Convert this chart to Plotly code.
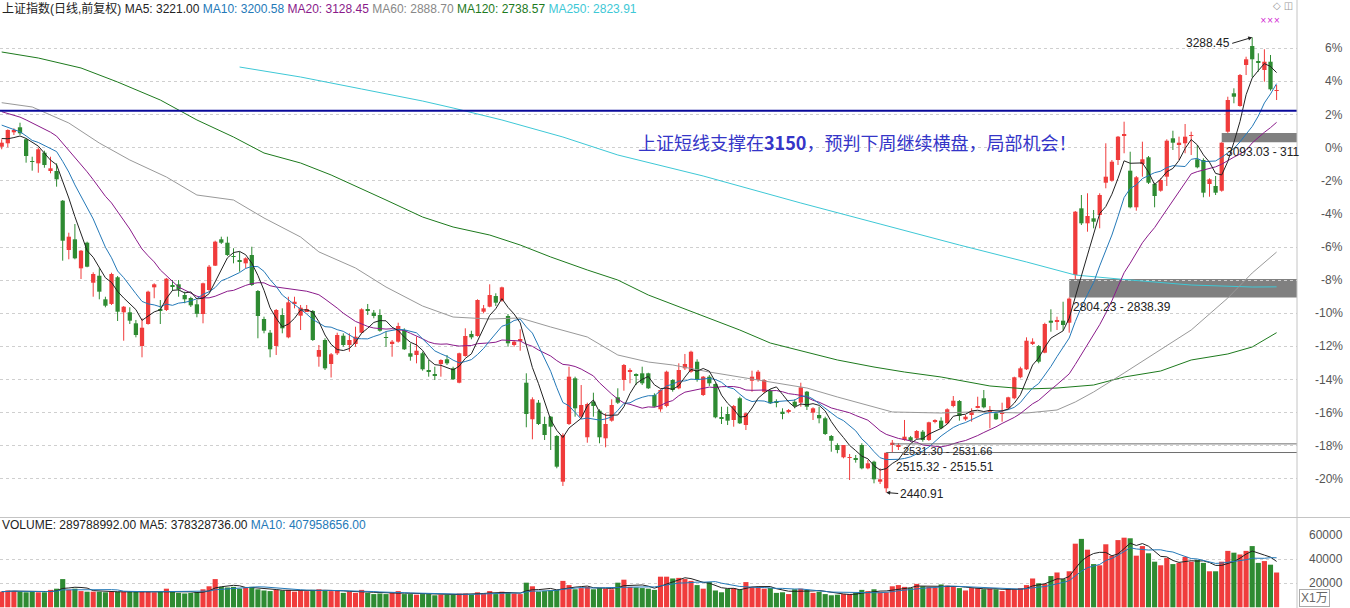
import numpy as np
import pandas as pd
import plotly.graph_objects as go

# ---------------- data ----------------
opens = [3084.8,3091.2,3111.7,3121.0,3098.6,3058.2,3053.9,3073.7,3039.6,3039.6,
2984.3,2892.5,2912.4,2858.4,2906.1,2831.6,2844.6,2800.7,2792.0,2841.7,
2776.5,2776.5,2756.0,2713.7,2754.7,2823.0,2782.1,2780.8,2827.3,2828.6,
2808.7,2803.1,2791.4,2773.3,2818.0,2863.3,2912.4,2906.1,2881.3,2873.9,
2867.7,2883.2,2816.2,2764.0,2738.5,2713.7,2771.5,2729.9,2793.3,2770.2,
2778.9,2778.9,2693.8,2724.9,2680.2,2700.2,2732.9,2715.6,2717.5,2738.5,
2781.3,2775.8,2771.5,2730.5,2718.8,2721.8,2743.5,2700.2,2697.0,2700.2,
2669.1,2661.6,2680.2,2689.0,2672.2,2645.4,2695.1,2736.1,2732.4,2777.6,
2786.9,2806.8,2798.1,2769.6,2715.6,2724.9,2645.4,2577.3,2608.2,2568.5,
2582.1,2546.2,2461.1,2568.5,2653.6,2582.1,2543.8,2610.0,2593.3,2541.9,
2574.7,2618.2,2650.4,2665.9,2661.6,2662.9,2662.9,2622.5,2595.9,2602.0,
2650.4,2635.0,2672.2,2665.9,2684.5,2622.5,2656.6,2643.0,2580.2,2587.1,
2576.0,2616.4,2566.6,2649.1,2650.4,2628.7,2630.5,2610.0,2591.4,2591.4,
2610.0,2608.2,2628.7,2589.6,2585.3,2579.1,2546.2,2529.4,2506.5,2505.2,
2504.6,2529.4,2486.0,2498.3,2461.1,2448.8,2529.4,2526.2,2538.7,2543.8,
2541.9,2554.2,2538.7,2572.8,2574.7,2569.8,2602.0,2611.3,2577.3,2585.3,
2599.6,2616.4,2591.4,2588.4,2588.4,2597.7,2616.4,2655.5,2670.4,2717.5,
2713.7,2701.3,2760.9,2759.0,2760.9,2757.1,2845.9,2970.1,2942.2,2951.5,
2957.7,3017.8,3021.5,3060.1,3106.6,3040.2,2972.0,3052.6,3065.1,3015.4,
3002.9,3029.0,3100.5,3088.0,3091.2,3104.8,3061.4,3060.1,3015.4,3011.7,
3002.9,3112.8,3184.3,3160.6,3237.0,3272.3,3243.1,3227.7,3243.1,3189.1]

highs = [3098.6,3117.2,3119.1,3129.5,3100.5,3066.2,3083.0,3077.4,3066.2,3053.9,
2985.6,2924.7,2940.9,2892.5,2908.0,2851.0,2858.4,2805.5,2850.2,2844.1,
2788.2,2785.8,2762.2,2765.3,2816.7,2830.5,2799.4,2840.4,2836.6,2836.6,
2814.9,2805.5,2799.4,2831.6,2864.6,2909.8,2917.3,2917.3,2895.7,2889.3,
2878.9,2898.6,2818.0,2768.3,2743.5,2782.6,2783.9,2805.5,2805.5,2790.1,
2790.1,2780.8,2715.6,2728.1,2700.7,2738.5,2737.4,2737.4,2749.7,2783.9,
2792.0,2780.8,2782.1,2740.4,2724.9,2757.1,2746.7,2718.8,2731.1,2703.1,
2687.7,2675.2,2689.0,2697.0,2675.2,2701.3,2746.7,2742.2,2800.7,2790.1,
2828.6,2811.9,2824.2,2773.3,2724.9,2744.8,2662.9,2618.2,2613.2,2582.1,
2583.4,2548.0,2551.2,2675.2,2656.6,2641.1,2608.2,2626.8,2595.9,2588.4,
2614.5,2635.0,2680.2,2672.2,2662.9,2675.2,2664.0,2625.7,2633.1,2667.8,
2651.7,2681.5,2698.9,2705.0,2689.0,2657.9,2659.7,2644.3,2600.7,2600.7,
2603.9,2619.3,2589.6,2667.8,2669.1,2651.7,2633.1,2614.5,2597.7,2596.4,
2614.5,2645.4,2630.0,2599.6,2600.7,2582.1,2548.0,2532.6,2529.4,2512.7,
2510.8,2532.6,2501.5,2500.2,2486.0,2515.32,2538.7,2532.6,2576.0,2546.2,
2557.3,2557.3,2572.8,2577.3,2581.0,2597.7,2620.6,2613.2,2585.3,2597.7,
2619.3,2631.8,2602.0,2591.4,2608.2,2619.3,2656.6,2675.2,2729.9,2728.1,
2715.6,2757.1,2782.1,2768.3,2796.2,2804.23,2965.1,2994.9,2998.1,2967.0,
2998.1,3091.2,3060.1,3104.8,3131.4,3075.5,3030.3,3094.2,3067.5,3017.8,
3026.0,3098.6,3114.6,3103.5,3127.1,3112.8,3088.0,3063.2,3026.0,3030.3,
3093.03,3177.9,3193.6,3220.2,3252.4,3288.45,3258.8,3266.2,3255.6,3199.7]

lows = [3080.0,3083.7,3106.6,3106.6,3055.1,3040.2,3036.4,3045.7,3035.3,3010.4,
2872.6,2875.2,2875.2,2838.5,2860.3,2805.5,2800.7,2785.8,2790.1,2760.3,
2723.6,2754.7,2729.9,2692.7,2753.4,2802.6,2754.7,2778.9,2816.2,2805.5,
2793.3,2786.4,2767.2,2756.0,2814.9,2862.7,2903.7,2881.3,2867.7,2852.1,
2858.4,2825.5,2728.1,2737.4,2692.7,2697.0,2737.4,2728.1,2783.9,2743.5,
2777.1,2723.1,2675.2,2669.1,2655.1,2697.0,2712.4,2703.1,2712.4,2737.4,
2771.5,2765.3,2740.4,2712.4,2693.8,2719.9,2706.3,2686.4,2681.5,2667.8,
2656.6,2650.4,2656.6,2678.4,2650.4,2644.3,2693.8,2726.2,2731.1,2774.6,
2785.8,2788.2,2796.2,2712.4,2712.4,2705.0,2562.4,2540.0,2566.6,2538.7,
2520.1,2486.0,2453.1,2566.6,2582.1,2579.1,2533.7,2582.1,2532.6,2525.1,
2572.8,2605.8,2630.5,2644.3,2641.1,2641.1,2633.7,2599.6,2591.4,2599.6,
2628.7,2633.1,2669.1,2664.0,2647.3,2620.6,2639.3,2579.1,2568.5,2566.6,
2563.5,2568.5,2557.3,2628.7,2647.3,2625.7,2605.8,2599.6,2577.3,2588.4,
2597.7,2600.7,2594.6,2576.0,2569.8,2548.0,2516.9,2514.0,2504.6,2464.2,
2496.5,2484.2,2484.2,2458.1,2456.8,2440.91,2515.51,2520.1,2537.4,2535.0,
2540.0,2535.6,2536.9,2569.8,2558.6,2568.0,2599.6,2574.7,2574.7,2572.8,
2597.7,2597.7,2560.5,2576.0,2572.8,2595.9,2614.5,2653.6,2669.1,2715.6,
2681.5,2700.2,2740.4,2743.5,2742.2,2738.5,2838.39,2939.0,2926.6,2932.9,
2932.9,3007.4,3019.7,3050.8,3072.6,2970.1,2965.7,3029.0,3015.4,2972.0,
3001.1,3011.7,3078.7,3060.1,3072.6,3069.4,3044.6,2990.6,2991.7,2994.9,
3001.1,3110.5,3165.7,3159.3,3218.3,3214.1,3224.5,3205.9,3189.1,3171.8]

closes = [3092.3,3115.9,3115.9,3109.8,3067.5,3056.4,3080.0,3050.8,3044.6,3024.1,
2909.8,2917.3,2877.0,2891.2,2861.4,2847.8,2814.9,2788.8,2847.8,2777.6,
2786.9,2760.9,2734.2,2747.8,2814.9,2828.6,2780.2,2839.1,2824.2,2819.0,
2800.7,2789.5,2773.7,2830.5,2861.4,2908.0,2906.1,2883.2,2880.0,2872.0,
2877.0,2827.3,2769.6,2742.2,2707.6,2780.8,2746.7,2795.1,2796.2,2785.1,
2782.6,2724.9,2706.3,2672.2,2698.3,2734.2,2715.6,2724.9,2731.1,2782.1,
2780.2,2769.6,2742.2,2729.2,2721.8,2751.0,2707.6,2693.8,2705.0,2670.4,
2665.9,2659.7,2687.7,2681.5,2651.7,2700.2,2732.4,2729.9,2799.4,2783.9,
2808.7,2794.4,2823.0,2718.8,2721.8,2726.2,2587.1,2614.5,2568.5,2548.0,
2563.5,2489.0,2548.0,2656.6,2597.7,2603.9,2605.8,2602.0,2543.8,2568.5,
2603.9,2608.2,2678.4,2667.8,2659.7,2644.3,2635.0,2600.7,2631.8,2665.9,
2631.8,2669.1,2680.2,2703.1,2650.4,2656.6,2644.3,2581.0,2579.1,2574.7,
2602.0,2569.8,2588.4,2656.6,2665.9,2650.4,2607.0,2608.2,2587.1,2594.6,
2602.0,2636.8,2600.7,2597.7,2579.1,2549.9,2537.4,2520.1,2529.4,2506.5,
2501.5,2486.0,2495.3,2465.5,2465.5,2515.0,2533.7,2529.4,2544.9,2537.4,
2555.5,2538.7,2571.7,2574.7,2560.5,2595.9,2611.9,2583.4,2582.1,2591.4,
2602.0,2599.6,2594.6,2577.3,2591.4,2618.2,2655.5,2672.2,2723.6,2721.8,
2684.5,2754.7,2757.1,2760.9,2752.8,2802.0,2963.8,2942.2,2955.8,2945.2,
2994.9,3029.0,3056.9,3103.5,3108.5,2972.0,3027.9,3061.4,3017.8,2993.0,
3022.8,3096.0,3092.3,3092.3,3103.5,3106.6,3046.5,2999.2,3024.1,2999.2,
3092.3,3171.8,3177.9,3218.3,3247.6,3247.6,3241.3,3243.1,3191.7,3190.4]

# volume, unit: 万
volumes = [13000,14000,13500,13000,12500,13500,12500,12500,14500,15500,
23500,14500,15500,13500,13000,13000,13000,12500,13000,13000,
13000,13000,13000,13500,13000,12500,13000,15500,13500,12000,
11500,12000,12500,15000,17500,23500,17000,16500,17000,15500,
16500,17000,15000,14000,13500,14500,14000,14500,13000,14000,
13500,14500,15000,14000,13500,14000,12000,13000,12000,14500,
12000,11000,11500,11000,12000,13500,11000,11000,10500,11000,
11000,10000,10500,10500,10500,11500,11500,10500,12500,11500,
13500,11000,13000,12500,11500,11000,20500,17500,13000,13500,
14000,14500,22000,18500,15000,16000,17000,15000,16000,15500,
15000,20500,23000,17000,16500,16000,15500,14500,25500,25500,
24000,24500,23500,22000,18500,15500,21000,14000,12500,15500,
16000,15000,21000,17000,17000,15500,16000,12000,12500,11000,
15000,15500,14500,12000,13000,11000,10000,10500,11000,11000,
12000,14500,13500,15000,12500,12500,17500,18500,17000,16000,
19500,17500,17000,16500,19000,18000,17000,16000,14000,16000,
16000,15000,15500,15000,13500,15500,15000,16000,18500,24000,
20000,19500,26000,29000,23500,30000,53000,57000,48000,36000,
35000,52500,43000,56000,58000,57500,43000,51000,45000,38000,
35000,41000,36000,37000,42000,38000,39500,37000,30000,30000,
38000,47000,45500,44000,47000,51000,37000,38500,35500,28979]

# closes before the visible window (inferred from where MA5/10/20 start)
prior_closes = [3185,3180,3178,3172,3170,3175,3168,3176,3170,3176,
                3160,3155,3150,3145,3140,3118,3105,3095,3090]

# long moving averages (day index, value)
ma60_idx = [0,5,11,16,21,27,32,38,43,49,52,58,63,69,74,80,85,90,96,101,106,110,116,121,126,132,137,143,146,154,159,168,173,176,179,184,190,195,201,205,209]
ma60_val = [3166.8,3158.8,3129.0,3091.7,3060.1,3028.4,2994.9,2985.6,2952.1,2916.7,2889.0,2859.0,2823.6,2788.2,2767.7,2764.0,2765.9,2749.1,2730.5,2697.0,2683.9,2678.4,2665.3,2656.0,2646.7,2635.5,2618.8,2600.2,2590.9,2589.0,2590.9,2589.0,2594.6,2609.5,2628.1,2663.5,2706.3,2743.5,2803.1,2849.7,2888.70]
ma120_idx = [0,6,13,19,26,32,38,43,49,54,63,69,74,80,85,90,96,101,106,121,126,132,137,143,148,154,159,162,168,173,179,184,190,195,201,205,209]
ma120_val = [3261.2,3250.0,3231.4,3205.3,3171.8,3134.6,3102.9,3073.1,3054.5,3032.2,2985.6,2953.9,2935.3,2920.4,2901.8,2879.5,2855.3,2836.6,2808.7,2743.5,2719.3,2702.6,2687.7,2674.6,2665.3,2656.0,2644.9,2639.3,2633.7,2635.5,2641.1,2656.0,2667.2,2687.7,2698.9,2711.9,2738.57]
ma250_idx = [39,49,59,69,74,82,92,101,115,131,144,157,168,176,185,195,205,209]
ma250_val = [3233.2,3214.6,3192.3,3169.9,3156.9,3134.6,3102.9,3069.4,3030.3,2980.0,2940.9,2901.8,2870.2,2845.9,2836.6,2827.3,2823.6,2823.91]

pct_base = 3083.0
pct_ticks = list(range(-20, 8, 2))
vol_ticks = [20000, 40000, 60000]
support_level = 3152
gap_bands = [(2804.23, 2838.39, 175), (3093.03, 3110.5, 200)]
gap_lines = [(2531.5, 146), (2515.4, 145)]

# ---------------- derived ----------------
n = len(closes)
x = np.arange(n)
O = np.array(opens); H = np.array(highs); L = np.array(lows); C = np.array(closes)
V = np.array(volumes, dtype=float)
up = C >= O
RED, GREEN = '#f03c3c', '#2e8b32'
cols = np.where(up, RED, GREEN)

allc = pd.Series(prior_closes + closes)
ma5 = allc.rolling(5).mean().values[-n:]
ma10 = allc.rolling(10).mean().values[-n:]
ma20 = allc.rolling(20).mean().values[-n:]
vs = pd.Series(V)
vma5 = vs.rolling(5, min_periods=1).mean().values
vma10 = vs.rolling(10, min_periods=1).mean().values

body_lo = np.minimum(O, C)
body_h = np.maximum(np.abs(C - O), 1.3)

fig = go.Figure()

# wicks
for mask, col in [(up, RED), (~up, GREEN)]:
    wx, wy = [], []
    for i in x[mask]:
        wx += [i, i, None]
        wy += [L[i], H[i], None]
    fig.add_trace(go.Scatter(x=wx, y=wy, mode='lines', line=dict(color=col, width=1),
                             hoverinfo='skip', showlegend=False, xaxis='x', yaxis='y'))
# bodies
fig.add_trace(go.Bar(x=x, y=body_h, base=body_lo, width=0.7, marker=dict(color=cols, line=dict(width=0)),
                     showlegend=False, xaxis='x', yaxis='y'))

# moving averages
fig.add_trace(go.Scatter(x=ma250_idx, y=ma250_val, mode='lines', line=dict(color='#3ec8d6', width=1), showlegend=False, yaxis='y'))
fig.add_trace(go.Scatter(x=ma120_idx, y=ma120_val, mode='lines', line=dict(color='#1d7a1d', width=1), showlegend=False, yaxis='y'))
fig.add_trace(go.Scatter(x=ma60_idx, y=ma60_val, mode='lines', line=dict(color='#999999', width=1), showlegend=False, yaxis='y'))
fig.add_trace(go.Scatter(x=x, y=ma20, mode='lines', line=dict(color='#8a1a8a', width=1), showlegend=False, yaxis='y'))
fig.add_trace(go.Scatter(x=x, y=ma10, mode='lines', line=dict(color='#2479b8', width=1), showlegend=False, yaxis='y'))
fig.add_trace(go.Scatter(x=x, y=ma5, mode='lines', line=dict(color='#222222', width=1), showlegend=False, yaxis='y'))

# volume
fig.add_trace(go.Bar(x=x, y=V, width=0.84, marker=dict(color=cols, line=dict(width=0)),
                     showlegend=False, xaxis='x', yaxis='y2'))
fig.add_trace(go.Scatter(x=x, y=vma5, mode='lines', line=dict(color='#222222', width=1), showlegend=False, yaxis='y2'))
fig.add_trace(go.Scatter(x=x, y=vma10, mode='lines', line=dict(color='#2479b8', width=1), showlegend=False, yaxis='y2'))

W, Hgt = 1350, 608
plot_r = 1297
xmin = -1.7 / 6.1
xmax = (plot_r - 1.7) / 6.1

shapes = []
for lo, hi, start in gap_bands:
    shapes.append(dict(type='rect', xref='x', yref='y', x0=start, x1=xmax, y0=lo, y1=hi,
                       fillcolor='#808080', line=dict(width=0), layer='below'))
for lvl, start in gap_lines:
    shapes.append(dict(type='line', xref='x', yref='y', x0=start, x1=xmax, y0=lvl, y1=lvl,
                       line=dict(color='#6e6e6e', width=1)))
shapes.append(dict(type='line', xref='x', yref='y', x0=xmin, x1=xmax, y0=support_level, y1=support_level,
                   line=dict(color='#0a0a9a', width=2)))
# frame lines
shapes.append(dict(type='line', xref='paper', yref='paper', x0=1, x1=1, y0=0, y1=1, line=dict(color='#c4c4c4', width=1)))
shapes.append(dict(type='line', xref='paper', yref='paper', x0=0, x1=W / plot_r, y0=(Hgt - 517.5) / Hgt, y1=(Hgt - 517.5) / Hgt,
                   line=dict(color='#c4c4c4', width=1)))

FONT = 'Liberation Sans, Arial, Noto Sans CJK SC, sans-serif'
ann = []
lab_x = 1345 / plot_r
for p in pct_ticks:
    ann.append(dict(xref='paper', yref='y', x=lab_x, y=pct_base * (1 + p / 100), text=f'{p}%',
                    xanchor='right', yanchor='middle', showarrow=False, font=dict(size=12, color='#555', family=FONT)))
for v in vol_ticks:
    ann.append(dict(xref='paper', yref='y2', x=lab_x, y=v, text=f'{v}',
                    xanchor='right', yanchor='middle', showarrow=False, font=dict(size=12, color='#555', family=FONT)))
ann.append(dict(xref='paper', yref='paper', x=1299 / plot_r, y=0.001, text='X1万', xanchor='left', yanchor='bottom',
                showarrow=False, font=dict(size=12, color='#666', family=FONT), bordercolor='#aaa', borderwidth=1, borderpad=1))

legend_txt = ('<span style="color:#222">上证指数(日线,前复权) MA5: 3221.00</span> '
              '<span style="color:#2479b8">MA10: 3200.58</span> '
              '<span style="color:#8a1a8a">MA20: 3128.45</span> '
              '<span style="color:#888">MA60: 2888.70</span> '
              '<span style="color:#1d7a1d">MA120: 2738.57</span> '
              '<span style="color:#3ec8d6">MA250: 2823.91</span>')
ann.append(dict(xref='paper', yref='paper', x=0, y=(Hgt - 8) / Hgt, text=legend_txt, xanchor='left', yanchor='middle',
                showarrow=False, font=dict(size=12, family=FONT)))
vol_txt = ('<span style="color:#222">VOLUME: 289788992.00 MA5: 378328736.00</span> '
           '<span style="color:#2479b8">MA10: 407958656.00</span>')
ann.append(dict(xref='paper', yref='paper', x=0, y=(Hgt - 525) / Hgt, text=vol_txt, xanchor='left', yanchor='middle',
                showarrow=False, font=dict(size=12, family=FONT)))

ann.append(dict(xref='paper', yref='paper', x=636 / plot_r, y=(Hgt - 142) / Hgt,
                text='上证短线支撑在<b>3150</b>，预判下周继续横盘，局部机会！', xanchor='left', yanchor='middle',
                showarrow=False, font=dict(size=18, color='#3535c8', family='Noto Sans CJK SC, sans-serif')))

ann.append(dict(xref='x', yref='y', x=205, y=3288.45, text='3288.45', showarrow=True, arrowhead=2, arrowsize=0.8,
                arrowwidth=1, arrowcolor='#222', ax=-20, ay=6, xanchor='right', yanchor='middle',
                font=dict(size=12, color='#222', family=FONT)))
ann.append(dict(xref='x', yref='y', x=145, y=2440.91, text='2440.91', showarrow=True, arrowhead=2, arrowsize=0.8,
                arrowwidth=1, arrowcolor='#222', ax=12, ay=1, xanchor='left', yanchor='middle',
                font=dict(size=12, color='#222', family=FONT)))
ann.append(dict(xref='x', yref='y', x=175.3, y=2804.23, text='2804.23 - 2838.39', showarrow=False,
                xanchor='left', yanchor='top', yshift=-1, font=dict(size=12, color='#222', family=FONT)))
ann.append(dict(xref='x', yref='y', x=200.3, y=3093.03, text='3093.03 - 311', showarrow=False,
                xanchor='left', yanchor='top', yshift=-1, font=dict(size=12, color='#222', family=FONT)))
ann.append(dict(xref='x', yref='y', x=147.5, y=2531.5, text='2531.30 - 2531.66', showarrow=False,
                xanchor='left', yanchor='middle', yshift=-7, font=dict(size=11, color='#222', family=FONT)))
ann.append(dict(xref='x', yref='y', x=146.2, y=2515.4, text='2515.32 - 2515.51', showarrow=False,
                xanchor='left', yanchor='top', yshift=-5, font=dict(size=12, color='#222', family=FONT)))
ann.append(dict(xref='paper', yref='paper', x=1283 / plot_r, y=(Hgt - 6) / Hgt, text='◇ ◫', xanchor='center',
                yanchor='middle', showarrow=False, font=dict(size=10, color='#999', family='DejaVu Sans')))
ann.append(dict(xref='paper', yref='paper', x=1270 / plot_r, y=(Hgt - 20) / Hgt, text='×××', xanchor='center',
                yanchor='middle', showarrow=False, font=dict(size=8, color='#d020d0', family='DejaVu Sans')))

main_bottom, main_top = 516, 20
fig.update_layout(
    width=W, height=Hgt, margin=dict(l=0, r=W - plot_r, t=0, b=0),
    paper_bgcolor='white', plot_bgcolor='white', barmode='overlay', showlegend=False,
    xaxis=dict(range=[xmin, xmax], showgrid=False, zeroline=False, showticklabels=False, ticks='', anchor='y2'),
    yaxis=dict(domain=[(Hgt - main_bottom) / Hgt, (Hgt - main_top) / Hgt],
               range=[3358 - 1.862 * main_bottom, 3358 - 1.862 * main_top],
               tickvals=[pct_base * (1 + p / 100) for p in pct_ticks], showticklabels=False, ticks='',
               showgrid=True, gridcolor='#cfcfcf', griddash='dot', gridwidth=1, zeroline=False),
    yaxis2=dict(domain=[0, (Hgt - 518) / Hgt], range=[-600, 74400], tickvals=[20000, 40000],
                showticklabels=False, ticks='', showgrid=True, gridcolor='#cfcfcf', griddash='dot', zeroline=False),
    shapes=shapes, annotations=ann, hovermode=False,
)
fig.write_html('out.html')
